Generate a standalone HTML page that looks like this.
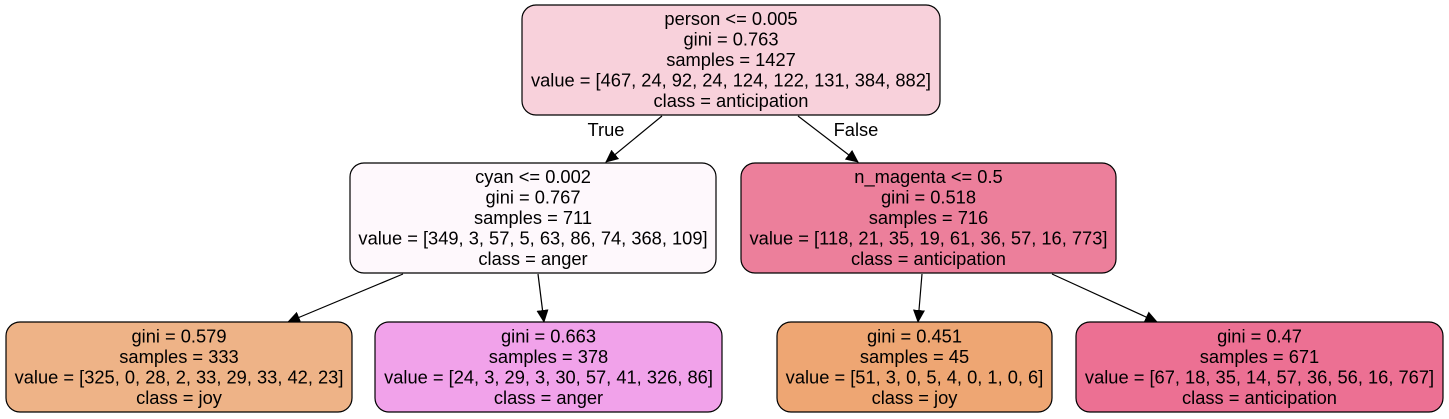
<!DOCTYPE html>
<html><head><meta charset="utf-8"><style>
html,body{margin:0;padding:0;background:#fff;}
svg{display:block;}
text{font-family:"Liberation Sans",sans-serif;font-size:18.3px;fill:#000;text-anchor:middle;}
</style></head><body>
<svg width="1449" height="419" viewBox="0 0 1449 419">
<defs><marker id="ah" markerWidth="13" markerHeight="12" refX="12" refY="6" orient="auto" markerUnits="userSpaceOnUse"><path d="M0,0 L13,6 L0,12 z" fill="#000"/></marker></defs>
<g stroke="#000" stroke-width="1.2">
<line x1="662" y1="116" x2="606" y2="162" marker-end="url(#ah)"/>
<line x1="798" y1="116" x2="858" y2="162" marker-end="url(#ah)"/>
<line x1="403" y1="274" x2="288" y2="322" marker-end="url(#ah)"/>
<line x1="538" y1="274" x2="544" y2="322" marker-end="url(#ah)"/>
<line x1="922" y1="274" x2="918" y2="322" marker-end="url(#ah)"/>
<line x1="1052" y1="274" x2="1157" y2="322" marker-end="url(#ah)"/>
</g>
<text x="606" y="136">True</text>
<text x="856" y="136">False</text>
<g id="nodes"></g>
</svg>
<script>
const nodeLabels = [
 ["person <= 0.005","gini = 0.763","samples = 1427","value = [467, 24, 92, 24, 124, 122, 131, 384, 882]","class = anticipation"],
 ["cyan <= 0.002","gini = 0.767","samples = 711","value = [349, 3, 57, 5, 63, 86, 74, 368, 109]","class = anger"],
 ["n_magenta <= 0.5","gini = 0.518","samples = 716","value = [118, 21, 35, 19, 61, 36, 57, 16, 773]","class = anticipation"],
 ["gini = 0.579","samples = 333","value = [325, 0, 28, 2, 33, 29, 33, 42, 23]","class = joy"],
 ["gini = 0.663","samples = 378","value = [24, 3, 29, 3, 30, 57, 41, 326, 86]","class = anger"],
 ["gini = 0.451","samples = 45","value = [51, 3, 0, 5, 4, 0, 1, 0, 6]","class = joy"],
 ["gini = 0.47","samples = 671","value = [67, 18, 35, 14, 57, 36, 56, 16, 767]","class = anticipation"]
];
const nodeFills = ["#f8d1db","#fef8fc","#ec7f9b","#eeb387","#f1a2ea","#eea673","#ec7093"];
const nodeBoxes = [[522,5,418,110],[350,163,366,110],[741,163,375,110],[6,322,346,90],[375,322,347,90],[777,322,275,90],[1076,322,367,90]];
const nodeNames = ["root-node","node-cyan","node-n-magenta","leaf-joy-1","leaf-anger","leaf-joy-2","leaf-anticipation"];
const g = document.getElementById('nodes');
const NS = "http://www.w3.org/2000/svg";
nodeLabels.forEach((lines,i)=>{
  const [x,y,w,h] = nodeBoxes[i];
  const grp = document.createElementNS(NS,'g');
  
  
  const r = document.createElementNS(NS,'rect');
  r.setAttribute('x',x);r.setAttribute('y',y);r.setAttribute('width',w);r.setAttribute('height',h);
  r.setAttribute('rx',14);r.setAttribute('fill',nodeFills[i]);r.setAttribute('stroke','#000');r.setAttribute('stroke-width','1.2');
  
  
  grp.appendChild(r);
  const cx = x + w/2;
  const start = y + h/2 - (lines.length-1)*20.5/2 + 6;
  lines.forEach((ln,j)=>{
    const t = document.createElementNS(NS,'text');
    t.setAttribute('x',cx);t.setAttribute('y',start + j*20.5);
    t.textContent = ln;
    
    
    grp.appendChild(t);
  });
  g.appendChild(grp);
});
</script>
</body></html>
